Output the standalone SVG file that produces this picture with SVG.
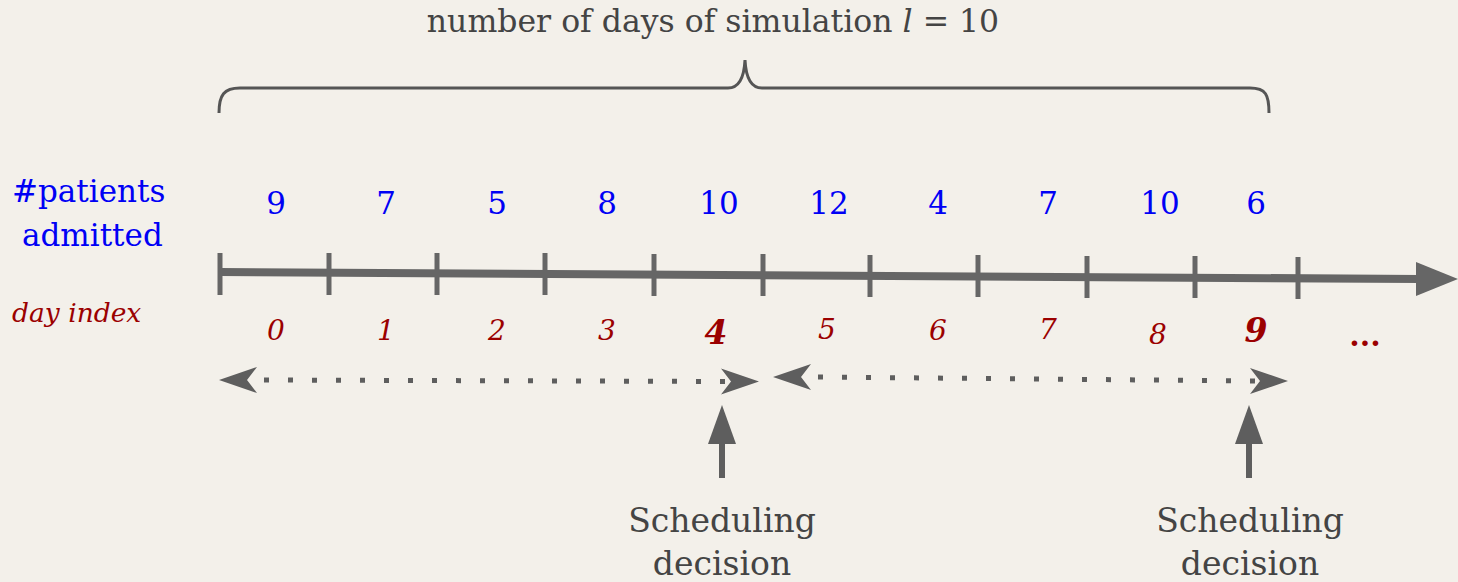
<svg xmlns="http://www.w3.org/2000/svg" width="1458" height="582" viewBox="0 0 1458 582">
<defs>
<style>
.t{font-family:"DejaVu Serif","Liberation Serif",serif;}
.title{font-size:31.5px;fill:#444;}
.cnt{font-size:31px;fill:#0000f5;text-anchor:middle;}
.lbl{font-size:31px;fill:#0000f5;}
.idx{font-size:28px;fill:#9b0000;font-style:italic;text-anchor:middle;}
.idxb{font-size:33px;fill:#9b0000;font-style:italic;font-weight:bold;text-anchor:middle;}
.sd{font-size:33px;fill:#444;text-anchor:middle;}
.tick{stroke:#666;stroke-width:5;}
.dot{stroke:#5e5e5e;stroke-width:5;stroke-dasharray:5 19;fill:none;}
.hd{fill:#5e5e5e;}
</style>
<path id="head" d="M0,0 L-38,-13 L-28,0 L-38,13 Z"/>
</defs>
<rect width="1458" height="582" fill="#f3f0ea"/>

<g id="title">
<text class="t title" x="713" y="32" text-anchor="middle">number of days of simulation <tspan font-style="italic">l</tspan> = 10</text>
</g>

<g id="brace">
<path d="M219,113 C219,95 224,88 240,88 L728,88 C738,88 744,80 745,60 C746,80 752,88 762,88 L1250,88 C1266,88 1269,95 1269,113" fill="none" stroke="#555" stroke-width="3"/>
</g>

<g id="row-labels">
<text class="t lbl" x="12" y="202">#patients</text>
<text class="t lbl" x="22" y="246">admitted</text>
<text class="t" x="12" y="322" font-size="26.5" font-style="italic" fill="#9b0000">day index</text>
</g>

<g id="counts">
<text class="t cnt" x="276" y="214">9</text>
<text class="t cnt" x="386" y="214">7</text>
<text class="t cnt" x="497" y="214">5</text>
<text class="t cnt" x="607" y="214">8</text>
<text class="t cnt" x="719" y="214">10</text>
<text class="t cnt" x="829" y="214">12</text>
<text class="t cnt" x="938" y="214">4</text>
<text class="t cnt" x="1048" y="214">7</text>
<text class="t cnt" x="1160" y="214">10</text>
<text class="t cnt" x="1256" y="214">6</text>
</g>

<g id="axis">
<path d="M220,272 L1420,279" stroke="#666" stroke-width="8" fill="none"/>
<path d="M1416,262 L1458,279 L1416,296 Z" fill="#666"/>
<line class="tick" x1="220" y1="253" x2="220" y2="295"/>
<line class="tick" x1="329" y1="253" x2="329" y2="295"/>
<line class="tick" x1="437" y1="253" x2="437" y2="295"/>
<line class="tick" x1="545" y1="253" x2="545" y2="295"/>
<line class="tick" x1="654" y1="254" x2="654" y2="296"/>
<line class="tick" x1="763" y1="254" x2="763" y2="296"/>
<line class="tick" x1="870" y1="255" x2="870" y2="297"/>
<line class="tick" x1="978" y1="255" x2="978" y2="297"/>
<line class="tick" x1="1087" y1="256" x2="1087" y2="298"/>
<line class="tick" x1="1195" y1="256" x2="1195" y2="298"/>
<line class="tick" x1="1298" y1="257" x2="1298" y2="299"/>
</g>

<g id="day-index">
<text class="t idx" x="276" y="340">0</text>
<text class="t idx" x="386" y="340">1</text>
<text class="t idx" x="497" y="340">2</text>
<text class="t idx" x="607" y="340">3</text>
<text class="t idxb" x="716" y="344">4</text>
<text class="t idx" x="827" y="339">5</text>
<text class="t idx" x="938" y="340">6</text>
<text class="t idx" x="1048" y="339">7</text>
<text class="t idx" x="1158" y="344" font-size="31">8</text>
<text class="t idxb" x="1256" y="342">9</text>
<text class="t" x="1365" y="346" font-size="30" font-weight="bold" fill="#9b0000" text-anchor="middle">...</text>
</g>

<g id="connectors">
<path class="dot" d="M264,380 L726,381.5"/>
<use href="#head" class="hd" transform="translate(219,380) rotate(180)"/>
<use href="#head" class="hd" transform="translate(759,381.5)"/>
<path class="dot" d="M818,377 L1257,381"/>
<use href="#head" class="hd" transform="translate(773,377) rotate(180)"/>
<use href="#head" class="hd" transform="translate(1288,381)"/>
<path d="M722,478 L722,440" stroke="#5e5e5e" stroke-width="6"/>
<path d="M722,405 L736,444 L708,444 Z" class="hd"/>
<path d="M1249,478 L1249,440" stroke="#5e5e5e" stroke-width="6"/>
<path d="M1249,405 L1263,444 L1235,444 Z" class="hd"/>
</g>

<g id="decision-1">
<text class="t sd" x="722" y="532">Scheduling</text>
<text class="t sd" x="722" y="575">decision</text>
</g>
<g id="decision-2">
<text class="t sd" x="1250" y="532">Scheduling</text>
<text class="t sd" x="1250" y="575">decision</text>
</g>
</svg>
